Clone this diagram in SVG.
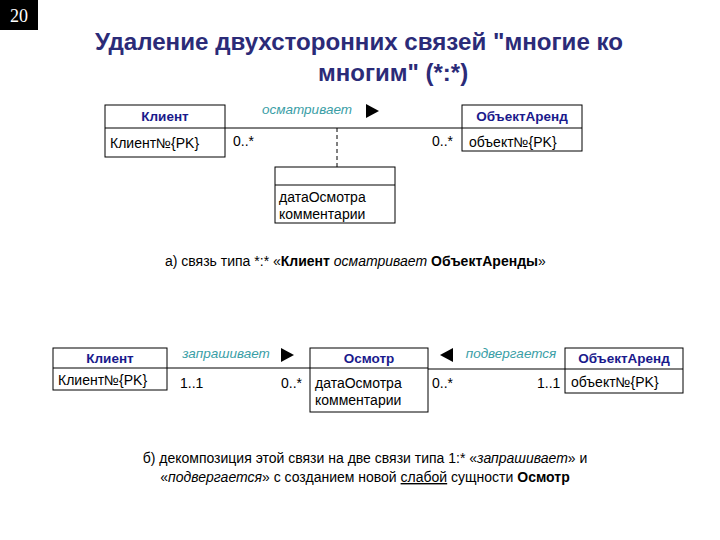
<svg xmlns="http://www.w3.org/2000/svg" width="720" height="540" viewBox="0 0 720 540">
<style>
.box{fill:#fff;stroke:#000;stroke-width:1}
.hd{font-family:"Liberation Sans",Arial,sans-serif;font-size:13.5px;font-weight:bold;fill:#1a1a8c;text-anchor:middle}
.at{font-family:"Liberation Sans",Arial,sans-serif;font-size:14px;fill:#000}
.rl{font-family:"Liberation Sans",Arial,sans-serif;font-size:13.5px;font-style:italic;fill:#3a9ea6}
.cap{font-family:"Liberation Sans",Arial,sans-serif;font-size:14px;fill:#000}
.title{font-family:"Liberation Sans",Arial,sans-serif;font-size:24px;font-weight:bold;fill:#2b2b78}
.ln{stroke:#000;stroke-width:1;fill:none}
</style>
<rect x="0" y="0" width="38" height="30" fill="#000"/>
<text x="19" y="22" fill="#fff" font-family="Liberation Serif,serif" font-size="18" text-anchor="middle">20</text>
<text class="title" x="95" y="50" textLength="528" lengthAdjust="spacingAndGlyphs">Удаление двухсторонних связей "многие ко</text>
<text class="title" x="318" y="81">многим" (*:*)</text>

<g id="connectors">
<line class="ln" x1="225" y1="128" x2="462" y2="128"/>
<line class="ln" x1="337" y1="128" x2="337" y2="167" stroke-dasharray="4,3"/>
<line class="ln" x1="167" y1="368" x2="310" y2="368"/>
<line class="ln" x1="428" y1="369" x2="565" y2="369"/>
<polygon points="366,104 379,111 366,118" fill="#000"/>
<polygon points="281,348 294,355 281,362" fill="#000"/>
<polygon points="453,348 440,355 453,362" fill="#000"/>
<text class="rl" x="307" y="114" text-anchor="middle">осматривает</text>
<text class="at" x="233" y="146">0..*</text>
<text class="at" x="432" y="146">0..*</text>
<text class="rl" x="226" y="358" text-anchor="middle">запрашивает</text>
<text class="rl" x="511" y="358" text-anchor="middle">подвергается</text>
<text class="at" x="180" y="388">1..1</text>
<text class="at" x="281" y="388">0..*</text>
<text class="at" x="432" y="388">0..*</text>
<text class="at" x="537" y="388">1..1</text>
</g>

<g id="client1">
<rect class="box" x="105" y="105" width="120" height="52"/>
<line class="ln" x1="105" y1="128" x2="225" y2="128"/>
<text class="hd" x="165" y="121">Клиент</text>
<text class="at" x="110" y="148">Клиент№{PK}</text>
</g>
<g id="object1">
<rect class="box" x="462" y="105" width="120" height="46"/>
<line class="ln" x1="462" y1="128" x2="582" y2="128"/>
<text class="hd" x="522" y="121">ОбъектАренд</text>
<text class="at" x="469" y="147">объект№{PK}</text>
</g>
<g id="assoc">
<rect class="box" x="275" y="167" width="120" height="56"/>
<line class="ln" x1="275" y1="185" x2="395" y2="185"/>
<text class="at" x="279" y="202">датаОсмотра</text>
<text class="at" x="279" y="219">комментарии</text>
</g>
<text class="cap" x="165" y="266">а) связь типа *:* «<tspan font-weight="bold">Клиент</tspan> <tspan font-style="italic">осматривает</tspan> <tspan font-weight="bold">ОбъектАренды</tspan>»</text>

<g id="client2">
<rect class="box" x="53" y="348" width="114" height="42"/>
<line class="ln" x1="53" y1="368" x2="167" y2="368"/>
<text class="hd" x="110" y="363">Клиент</text>
<text class="at" x="58" y="385">Клиент№{PK}</text>
</g>
<g id="osmotr">
<rect class="box" x="310" y="348" width="118" height="64"/>
<line class="ln" x1="310" y1="368" x2="428" y2="368"/>
<text class="hd" x="369" y="363">Осмотр</text>
<text class="at" x="315" y="388">датаОсмотра</text>
<text class="at" x="315" y="405">комментарии</text>
</g>
<g id="object2">
<rect class="box" x="565" y="348" width="118" height="45"/>
<line class="ln" x1="565" y1="369" x2="683" y2="369"/>
<text class="hd" x="624" y="363">ОбъектАренд</text>
<text class="at" x="571" y="387">объект№{PK}</text>
</g>
<text class="cap" x="365" y="463" text-anchor="middle">б) декомпозиция этой связи на две связи типа 1:* «<tspan font-style="italic">запрашивает</tspan>» и</text>
<text class="cap" x="365" y="482" text-anchor="middle">«<tspan font-style="italic">подвергается</tspan>» с созданием новой <tspan text-decoration="underline">слабой</tspan> сущности <tspan font-weight="bold">Осмотр</tspan></text>
</svg>
